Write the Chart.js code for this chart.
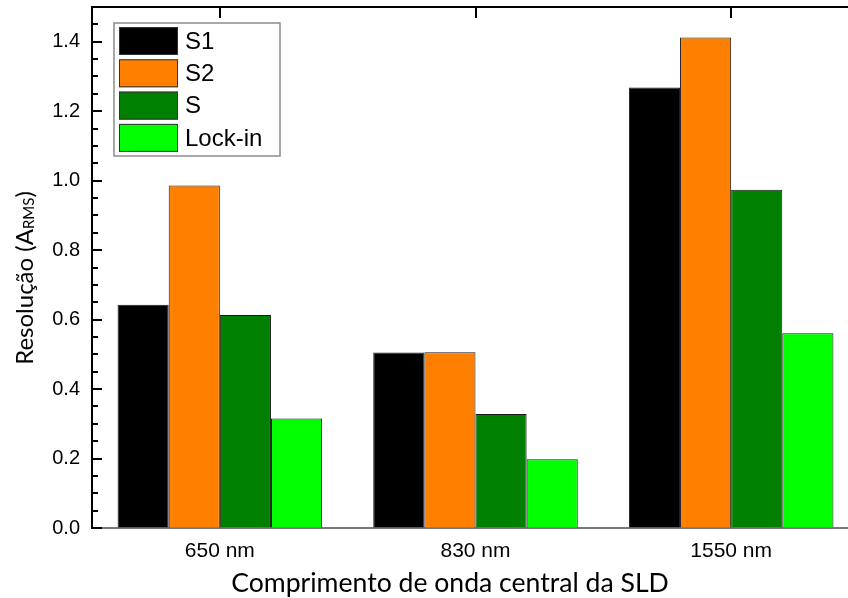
<!DOCTYPE html>
<html>
<head>
<meta charset="utf-8">
<script src="https://cdn.jsdelivr.net/npm/chart.js@4.4.1/dist/chart.umd.min.js"></script>
<style>
  html, body { margin: 0; padding: 0; background: #fff; overflow: hidden; }
  #wrap { width: 848px; height: 598px; overflow: hidden; }
</style>
</head>
<body>
<div id="wrap"><canvas id="chart" width="880" height="598"></canvas></div>
<script>
const categories = ['650 nm', '830 nm', '1550 nm'];
const seriesNames = ['S1', 'S2', 'S', 'Lock-in'];
const s1Values = [0.643, 0.505, 1.268];
const s2Values = [0.986, 0.506, 1.412];
const sValues = [0.613, 0.328, 0.974];
const lockinValues = [0.315, 0.198, 0.561];
const yTicks = [0.0, 0.2, 0.4, 0.6, 0.8, 1.0, 1.2, 1.4];

const colors = ['#000000', '#ff8000', '#008000', '#00ff00'];
const allValues = [s1Values, s2Values, sValues, lockinValues];

// inward ticks, top frame line, legend and axis titles
const decorations = {
  id: 'decorations',
  afterDraw(chart) {
    const ctx = chart.ctx;
    const area = chart.chartArea;
    const y = chart.scales.y;
    const x = chart.scales.x;
    ctx.save();

    // top frame
    ctx.strokeStyle = '#000';
    ctx.lineWidth = 2;
    ctx.beginPath();
    ctx.moveTo(area.left - 1, area.top);
    ctx.lineTo(area.right, area.top);
    ctx.stroke();

    // y ticks, major every 0.2, minor every 0.05
    for (let i = 0; i <= 30; i++) {
      const v = i * 0.05;
      const py = Math.round(y.getPixelForValue(v));
      const len = (i % 4 === 0) ? 10 : 6;
      ctx.beginPath();
      ctx.moveTo(area.left, py);
      ctx.lineTo(area.left + len, py);
      ctx.stroke();
    }

    // top ticks at category centres
    for (let i = 0; i < categories.length; i++) {
      const px = Math.round(x.getPixelForValue(i));
      ctx.beginPath();
      ctx.moveTo(px, area.top);
      ctx.lineTo(px, area.top + 11);
      ctx.stroke();
    }

    // legend
    const lx = 114, ly = 23, lw = 166, lh = 133;
    ctx.fillStyle = '#fff';
    ctx.fillRect(lx, ly, lw, lh);
    ctx.strokeStyle = '#8c8c8c';
    ctx.lineWidth = 1.5;
    ctx.strokeRect(lx, ly, lw, lh);
    ctx.font = '24px "Liberation Sans", Arial, sans-serif';
    ctx.textBaseline = 'middle';
    chart.data.datasets.forEach((ds, i) => {
      const top = 27 + i * 32.3;
      ctx.fillStyle = ds.backgroundColor;
      ctx.fillRect(119, top, 59, 28);
      ctx.strokeStyle = '#333';
      ctx.lineWidth = 1;
      ctx.strokeRect(119.5, top + 0.5, 58, 27);
      ctx.fillStyle = '#000';
      ctx.fillText(ds.label, 185, top + 15);
    });

    // x title
    ctx.font = '26.6px Lato, "Open Sans", sans-serif';
    ctx.textAlign = 'center';
    ctx.textBaseline = 'alphabetic';
    ctx.fillStyle = '#000';
    ctx.fillText('Comprimento de onda central da SLD', 450, 592);

    // y title with subscript
    ctx.translate(33, 278);
    ctx.rotate(-Math.PI / 2);
    ctx.textAlign = 'left';
    const big = '24px Lato, "Open Sans", sans-serif';
    const small = '15px Lato, "Open Sans", sans-serif';
    ctx.font = big;
    const w1 = ctx.measureText('Resolução (A').width;
    const w3 = ctx.measureText(')').width;
    ctx.font = small;
    const w2 = ctx.measureText('RMS').width;
    const sx = -(w1 + w2 + w3) / 2;
    ctx.font = big;
    ctx.fillText('Resolução (A', sx, 0);
    ctx.font = small;
    ctx.fillText('RMS', sx + w1, 1);
    ctx.font = big;
    ctx.fillText(')', sx + w1 + w2, 0);

    ctx.restore();
  }
};

const ctx = document.getElementById('chart').getContext('2d');
new Chart(ctx, {
  type: 'bar',
  data: {
    labels: categories,
    datasets: seriesNames.map((name, i) => ({
      label: name,
      data: allValues[i],
      backgroundColor: colors[i],
      borderColor: '#1a1a1a',
      borderWidth: 1,
      categoryPercentage: 0.8,
      barPercentage: 1.0
    }))
  },
  options: {
    responsive: false,
    animation: false,
    layout: { padding: { top: 7, right: 21, left: 0, bottom: 0 } },
    plugins: {
      legend: { display: false },
      tooltip: { enabled: false }
    },
    scales: {
      x: {
        grid: { drawOnChartArea: false, drawTicks: false },
        border: { display: true, color: '#7a7a7a', width: 2 },
        ticks: {
          padding: 11,
          color: '#000',
          font: { family: '"Liberation Sans", Arial, sans-serif', size: 21 }
        },
        afterFit(scale) {
          scale.height = 70;
          scale.paddingLeft = 0;
          scale.paddingRight = 0;
        }
      },
      y: {
        min: 0,
        max: 1.5,
        grid: { drawOnChartArea: false, drawTicks: false },
        border: { display: true, color: '#000', width: 2 },
        afterBuildTicks(scale) {
          scale.ticks = yTicks.map(v => ({ value: v }));
        },
        ticks: {
          padding: 12,
          color: '#000',
          font: { family: '"Liberation Sans", Arial, sans-serif', size: 20 },
          callback: v => Number(v).toFixed(1)
        },
        afterFit(scale) {
          scale.width = 92;
          scale.paddingTop = 0;
          scale.paddingBottom = 0;
        }
      }
    }
  },
  plugins: [decorations]
});
</script>
</body>
</html>
